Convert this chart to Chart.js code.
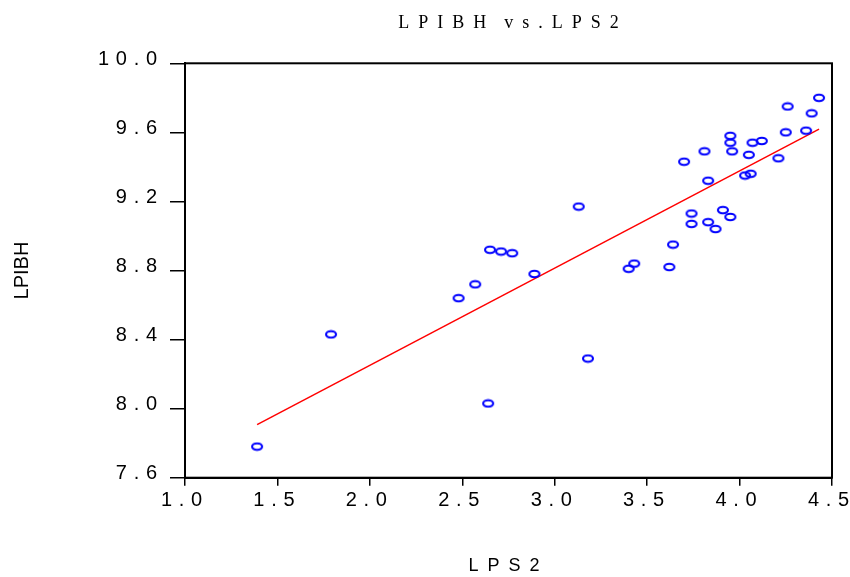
<!DOCTYPE html>
<html>
<head>
<meta charset="utf-8">
<script src="https://cdn.jsdelivr.net/npm/chart.js@4/dist/chart.umd.min.js"></script>
<style>
  html, body { margin: 0; padding: 0; background: #fff; }
  #wrap { width: 850px; height: 577px; }
</style>
</head>
<body>
<div id="wrap"><canvas id="scatter"></canvas></div>
<script>
// LPS2 (x) and LPIBH (y)
const lps2 = [1.39, 1.79, 2.48, 2.57, 2.64, 2.65, 2.71, 2.77, 2.89, 3.13, 3.18,
  3.40, 3.43, 3.62, 3.64, 3.70, 3.74, 3.74, 3.81, 3.83, 3.83, 3.87, 3.91, 3.95,
  3.95, 3.95, 3.96, 4.03, 4.05, 4.06, 4.07, 4.12, 4.21, 4.25, 4.26, 4.36, 4.39, 4.43];
const lpibh = [7.78, 8.43, 8.64, 8.72, 8.03, 8.92, 8.91, 8.90, 8.78, 9.17, 8.29,
  8.81, 8.84, 8.82, 8.95, 9.43, 9.07, 9.13, 9.49, 9.32, 9.08, 9.04, 9.15, 9.11,
  9.58, 9.54, 9.49, 9.35, 9.47, 9.36, 9.54, 9.55, 9.45, 9.60, 9.75, 9.61, 9.71, 9.80];

// fitted line end points
const fitX = [1.39, 4.43];
const fitY = [7.907, 9.619];

const xTicks = { min: 1.0, max: 4.5, step: 0.5 };
const yTicks = { min: 7.6, max: 10.0, step: 0.4 };

const SP = '\u2002';   // wide gap for the titles
const TSP = '\u2004';  // gap inside tick labels
const spaced = (s, gap) => s.split('').join(gap);

// small open ellipse used as the marker
function ellipseMarker() {
  const c = document.createElement('canvas');
  c.width = 14; c.height = 10;
  const g = c.getContext('2d');
  g.strokeStyle = '#0000ff';
  g.lineWidth = 2.1;
  g.beginPath();
  g.ellipse(7, 5, 5, 3.2, 0, 0, Math.PI * 2);
  g.stroke();
  return c;
}

// box round the plot area
const frame = {
  id: 'frame',
  afterDatasetsDraw(chart) {
    const a = chart.chartArea, ctx = chart.ctx;
    ctx.save();
    ctx.strokeStyle = '#000';
    ctx.lineWidth = 2;
    ctx.strokeRect(a.left, a.top, a.right - a.left, a.bottom - a.top);
    ctx.restore();
  }
};

const ctx = document.getElementById('scatter').getContext('2d');
new Chart(ctx, {
  type: 'scatter',
  data: {
    datasets: [
      {
        data: lps2.map((x, i) => ({ x: x, y: lpibh[i] })),
        pointStyle: ellipseMarker(),
        pointRadius: 5,
        showLine: false
      },
      {
        data: fitX.map((x, i) => ({ x: x, y: fitY[i] })),
        showLine: true,
        borderColor: '#ff0000',
        borderWidth: 1.5,
        pointRadius: 0
      }
    ]
  },
  options: {
    responsive: true,
    maintainAspectRatio: false,
    animation: false,
    layout: { padding: { left: 0, right: 18, top: 0, bottom: 0 } },
    plugins: {
      legend: { display: false },
      tooltip: { enabled: false },
      title: {
        display: true,
        fullSize: false,
        text: 'L' + SP + 'P' + SP + 'I' + SP + 'B' + SP + 'H' + SP + SP + 'v' + SP + 's' + SP + '.' + SP + 'L' + SP + 'P' + SP + 'S' + SP + '2',
        color: '#000',
        font: { family: 'Liberation Serif, Times New Roman, serif', size: 18, weight: 'normal' },
        padding: { top: 12, bottom: 29.7 }
      }
    },
    scales: {
      x: {
        type: 'linear',
        min: xTicks.min,
        max: xTicks.max,
        afterFit(s) { s.height = 99.3; s.paddingLeft = 0; s.paddingRight = 0; },
        border: { display: true, color: '#000', width: 2 },
        grid: { drawOnChartArea: false, drawTicks: true, tickLength: 8, color: '#000', lineWidth: 1.5 },
        ticks: {
          stepSize: xTicks.step,
          color: '#000',
          padding: 3,
          maxRotation: 0,
          labelOffset: -3.5,
          font: { family: 'Liberation Sans, Arial, sans-serif', size: 20 },
          callback: v => spaced(v.toFixed(1), TSP)
        },
        title: {
          display: true,
          text: spaced('LPS2', SP) + SP,
          color: '#000',
          font: { family: 'Liberation Sans, Arial, sans-serif', size: 18 },
          padding: { top: 0, bottom: 0 }
        }
      },
      y: {
        type: 'linear',
        min: yTicks.min,
        max: yTicks.max,
        afterFit(s) { s.width = 185; s.paddingTop = 0; s.paddingBottom = 0; },
        border: { display: true, color: '#000', width: 2 },
        grid: { drawOnChartArea: false, drawTicks: true, tickLength: 15, color: '#000', lineWidth: 1.5 },
        ticks: {
          stepSize: yTicks.step,
          color: '#000',
          padding: 13,
          labelOffset: -4,
          font: { family: 'Liberation Sans, Arial, sans-serif', size: 20 },
          callback: v => spaced(v.toFixed(1), TSP)
        },
        title: {
          display: true,
          text: 'LPIBH',
          color: '#000',
          font: { family: 'Liberation Sans, Arial, sans-serif', size: 20 },
          padding: { top: 10, bottom: 0 }
        }
      }
    }
  },
  plugins: [frame]
});
</script>
</body>
</html>
